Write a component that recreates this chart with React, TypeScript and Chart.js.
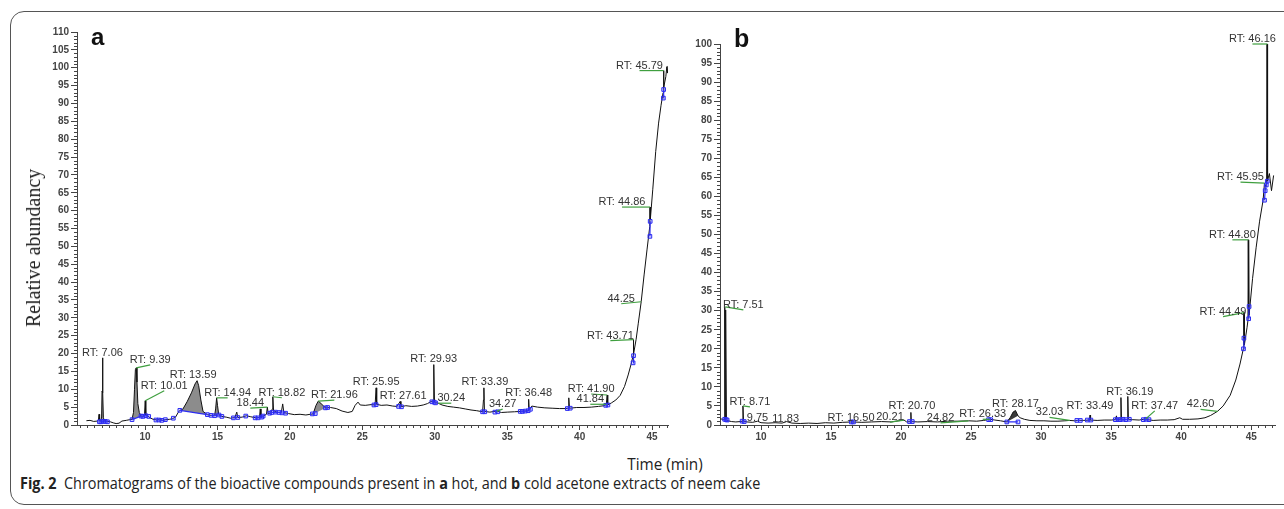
import React, { useEffect, useRef } from 'react';
import { Chart, registerables } from 'chart.js';

Chart.register(...registerables);

// ---------- Panel a : hot acetone extract ----------
const X_RANGE_A: [number, number] = [5.3, 46.1];
const Y_MAX_A = 110;

const TRACE_A: [number, number][] = [
  [5.95, 1.2], [6.2, 1.3], [6.45, 1.0], [6.7, 1.1], [6.78, 1.4], [6.82, 3.0], [6.86, 1.3], [6.95, 1.0],
  [7.0, 2.5], [7.03, 9.5], [7.06, 18.8], [7.09, 9.0], [7.12, 2.0], [7.2, 1.2], [7.4, 1.0], [7.6, 0.9],
  [7.8, 0.6], [8.0, 0.4], [8.2, 0.5], [8.4, 1.1], [8.7, 1.3], [8.95, 1.5], [9.1, 1.6], [9.2, 3.5],
  [9.27, 10.0], [9.33, 15.5], [9.39, 16.0], [9.44, 12.0], [9.5, 6.0], [9.6, 3.5], [9.72, 2.5], [9.85, 2.4],
  [9.96, 2.8], [10.01, 6.8], [10.05, 2.8], [10.2, 2.5], [10.35, 2.0], [10.55, 1.6], [10.8, 1.4], [11.0, 1.7],
  [11.2, 1.3], [11.45, 1.5], [11.7, 1.6], [11.9, 1.8], [12.1, 2.2], [12.3, 3.6], [12.4, 4.1], [12.6, 4.4],
  [12.9, 6.5], [13.2, 9.0], [13.45, 11.5], [13.59, 12.4], [13.7, 11.0], [13.85, 7.0], [14.0, 3.8], [14.3, 2.9],
  [14.55, 2.7], [14.8, 2.6], [14.87, 4.5], [14.94, 7.6], [15.0, 5.5], [15.08, 3.0], [15.3, 2.4], [15.6, 2.2],
  [15.9, 1.9], [16.2, 2.1], [16.33, 3.6], [16.4, 2.1], [16.7, 2.2], [17.0, 2.6], [17.3, 2.3], [17.65, 2.0],
  [17.9, 2.1], [17.95, 4.5], [18.0, 2.2], [18.2, 2.6], [18.38, 3.0], [18.44, 5.0], [18.5, 3.2], [18.7, 3.4],
  [18.78, 4.5], [18.82, 7.9], [18.87, 4.0], [19.1, 3.6], [19.4, 3.4], [19.5, 5.9], [19.58, 3.5], [19.9, 3.2],
  [20.3, 2.9], [20.7, 3.0], [21.1, 2.8], [21.4, 3.0], [21.6, 3.1], [21.8, 5.5], [21.96, 6.7], [22.15, 6.0],
  [22.35, 5.2], [22.5, 4.8], [22.8, 4.9], [23.2, 4.6], [23.6, 3.9], [24.0, 3.5], [24.3, 3.8], [24.5, 5.5],
  [24.7, 6.4], [24.85, 5.6], [25.2, 5.5], [25.6, 5.7], [25.88, 5.6], [25.95, 10.4], [25.99, 5.8], [26.3, 5.5],
  [26.7, 5.6], [27.1, 5.3], [27.4, 5.2], [27.61, 6.6], [27.66, 5.1], [28.0, 5.4], [28.4, 5.2], [28.8, 5.3],
  [29.2, 5.6], [29.5, 6.0], [29.75, 6.6], [29.89, 6.5], [29.93, 16.9], [29.98, 6.3], [30.24, 6.1], [30.5, 5.6],
  [30.9, 5.2], [31.3, 5.0], [31.7, 4.8], [32.1, 4.5], [32.5, 4.2], [32.9, 4.0], [33.3, 3.7], [33.36, 7.0],
  [33.39, 10.4], [33.43, 3.8], [33.8, 3.6], [34.27, 3.9], [34.6, 3.5], [35.0, 3.6], [35.5, 3.7], [35.9, 3.8],
  [36.2, 3.9], [36.45, 4.0], [36.48, 7.2], [36.52, 4.2], [36.7, 5.3], [37.1, 5.0], [37.6, 4.8], [38.1, 4.7],
  [38.6, 4.6], [39.0, 4.6], [39.22, 4.7], [39.25, 7.6], [39.3, 4.7], [39.8, 4.9], [40.3, 4.9], [40.8, 5.0],
  [41.3, 5.2], [41.7, 5.4], [41.84, 5.8], [41.9, 8.4], [41.94, 5.6], [42.2, 6.2], [42.5, 7.0], [42.8, 8.3],
  [43.1, 10.8], [43.35, 14.0], [43.55, 17.0], [43.69, 19.4], [43.71, 23.9], [43.73, 19.8], [43.9, 24.0],
  [44.05, 28.5], [44.25, 34.5], [44.45, 42.0], [44.65, 49.0], [44.84, 55.5], [44.86, 61.0], [44.88, 57.5],
  [45.05, 66.0], [45.25, 76.5], [45.45, 84.5], [45.62, 89.5], [45.76, 93.0], [45.79, 99.2], [45.82, 94.5],
  [45.95, 97.5], [46.02, 100.3], [46.06, 98.5], [46.1, 100.5],
];

const MARKERS_A: [number, number][][] = [
  [[6.85, 0.9], [6.95, 0.9], [7.1, 1.0], [7.25, 1.0], [7.4, 0.9]],
  [[9.1, 1.5], [9.72, 2.5]],
  [[9.85, 2.4], [10.05, 2.6], [10.25, 2.4]],
  [[10.75, 1.4], [10.95, 1.4], [11.15, 1.3], [11.4, 1.5]],
  [[11.95, 1.9]],
  [[12.4, 4.1], [14.3, 2.9]],
  [[14.55, 2.7], [14.8, 2.6], [15.1, 2.8], [15.3, 2.4]],
  [[16.1, 2.0], [16.4, 2.1]],
  [[16.95, 2.5]],
  [[17.6, 2.0], [17.8, 2.0], [18.05, 2.2], [18.15, 2.5]],
  [[18.6, 3.3], [18.75, 3.5], [19.0, 3.6], [19.25, 3.5], [19.45, 3.4], [19.7, 3.3]],
  [[21.55, 3.1], [21.75, 3.2]],
  [[22.45, 4.8], [22.6, 4.9]],
  [[25.8, 5.6], [25.95, 5.7]],
  [[27.5, 5.2], [27.7, 5.1]],
  [[29.8, 6.5], [29.95, 6.4], [30.05, 6.2]],
  [[33.3, 3.7], [33.45, 3.7]],
  [[34.15, 3.6], [34.35, 3.7]],
  [[35.9, 3.8], [36.05, 3.8], [36.25, 3.9], [36.45, 4.0], [36.6, 4.4]],
  [[39.15, 4.6], [39.35, 4.7]],
  [[41.8, 5.5], [41.95, 5.6]],
  [[43.69, 17.4], [43.72, 19.4]],
  [[44.85, 52.8], [44.87, 57.0]],
  [[45.78, 91.5], [45.8, 93.9]],
];

const FILLS_A: [number, number][] = [
  [6.95, 7.12], [9.1, 9.72], [9.96, 10.05], [12.4, 14.3], [14.8, 15.08], [21.6, 22.5],
];

const PEAKS_A = [
  { text: 'RT: 7.06', t: 7.06, y: 18.8 },
  { text: 'RT: 9.39', t: 9.39, y: 16.0 },
  { text: 'RT: 10.01', t: 10.01, y: 6.8 },
  { text: 'RT: 13.59', t: 13.59, y: 12.4 },
  { text: 'RT: 14.94', t: 14.94, y: 7.6 },
  { text: '18.44', t: 18.44, y: 5.0 },
  { text: 'RT: 18.82', t: 18.82, y: 7.9 },
  { text: 'RT: 21.96', t: 21.96, y: 6.7 },
  { text: 'RT: 25.95', t: 25.95, y: 10.4 },
  { text: 'RT: 27.61', t: 27.61, y: 6.6 },
  { text: 'RT: 29.93', t: 29.93, y: 16.9 },
  { text: '30.24', t: 30.24, y: 6.1 },
  { text: 'RT: 33.39', t: 33.39, y: 10.4 },
  { text: '34.27', t: 34.27, y: 3.9 },
  { text: 'RT: 36.48', t: 36.48, y: 7.2 },
  { text: 'RT: 41.90', t: 41.9, y: 8.4 },
  { text: '41.84', t: 41.84, y: 5.8 },
  { text: 'RT: 43.71', t: 43.71, y: 23.9 },
  { text: '44.25', t: 44.25, y: 34.5 },
  { text: 'RT: 44.86', t: 44.86, y: 61.0 },
  { text: 'RT: 45.79', t: 45.79, y: 99.2 },
];

// label placement relative to the peak apex, in pixels (layout only)
const LABEL_OFFSETS_A: [number, number][] = [
  [0, -5], [14, -8], [19, -15], [-4, -6], [11, -5], [-17, -4], [9, -4], [16, -6], [0, -6], [3, -5],
  [0, -6], [13, -5], [1, -6], [6, -7], [0, -6], [-16, -6], [-16, -5], [-23, -4], [-20, -3], [-28, -5], [-24, -5],
];

// ---------- Panel b : cold acetone extract ----------
const X_RANGE_B: [number, number] = [7.07, 46.7];
const Y_MAX_B = 100;

const TRACE_B: [number, number][] = [
  [7.1, 1.6], [7.3, 1.5], [7.38, 1.4], [7.41, 31.0], [7.44, 1.5], [7.46, 1.4], [7.49, 30.2], [7.53, 1.4],
  [7.65, 1.1], [7.9, 0.9], [8.2, 0.8], [8.5, 0.9], [8.66, 1.0], [8.71, 5.0], [8.75, 1.0], [9.0, 0.8],
  [9.4, 0.7], [9.75, 1.0], [10.0, 0.6], [10.5, 0.5], [11.0, 0.6], [11.5, 0.5], [11.83, 0.9], [12.2, 0.5],
  [12.8, 0.4], [13.4, 0.5], [14.0, 0.4], [14.6, 0.6], [15.2, 0.5], [15.8, 0.7], [16.5, 0.8], [17.2, 0.7],
  [17.9, 0.8], [18.6, 0.9], [19.3, 0.8], [19.8, 1.1], [20.21, 1.3], [20.4, 0.8], [20.67, 0.9], [20.7, 3.3],
  [20.73, 0.9], [21.2, 0.8], [21.9, 0.9], [22.6, 0.8], [23.3, 1.0], [24.0, 1.0], [24.82, 1.1], [25.4, 1.0],
  [25.9, 1.2], [26.33, 1.5], [26.7, 1.3], [27.1, 1.1], [27.55, 0.8], [27.8, 2.0], [28.0, 3.4], [28.17, 3.8],
  [28.35, 2.4], [28.5, 1.9], [28.8, 1.5], [29.2, 1.2], [29.7, 1.1], [30.2, 1.1], [30.7, 1.0], [31.2, 1.0],
  [31.7, 1.1], [32.03, 1.2], [32.4, 1.1], [32.7, 1.2], [33.0, 1.2], [33.45, 1.3], [33.49, 2.6], [33.53, 1.3],
  [34.0, 1.2], [34.5, 1.3], [35.0, 1.3], [35.3, 1.4], [35.38, 2.4], [35.42, 1.4], [35.66, 1.4], [35.7, 7.2],
  [35.74, 1.5], [36.15, 1.4], [36.19, 7.5], [36.23, 1.5], [36.5, 1.4], [37.0, 1.3], [37.47, 1.6], [37.6, 1.4],
  [38.0, 1.2], [38.5, 1.3], [39.0, 1.3], [39.5, 1.4], [39.9, 1.9], [40.1, 1.5], [40.6, 1.5], [41.2, 1.6],
  [41.7, 1.9], [42.1, 2.5], [42.6, 3.6], [43.0, 5.0], [43.5, 7.8], [43.9, 11.8], [44.2, 16.0], [44.44, 20.0],
  [44.47, 29.5], [44.49, 21.0], [44.51, 29.5], [44.53, 21.2], [44.7, 25.5], [44.77, 27.5], [44.79, 48.6],
  [44.81, 28.2], [44.83, 48.6], [44.85, 28.8], [45.1, 38.5], [45.35, 46.5], [45.6, 53.5], [45.85, 59.0],
  [45.95, 63.5], [46.05, 62.5], [46.1, 63.5], [46.13, 100.0], [46.15, 64.0], [46.17, 100.0], [46.19, 64.2],
  [46.3, 66.0], [46.45, 61.5], [46.6, 65.5],
];

const MARKERS_B: [number, number][][] = [
  [[7.4, 1.5], [7.5, 1.4], [7.58, 1.3]],
  [[8.65, 1.0], [8.8, 0.9]],
  [[16.45, 0.8], [16.6, 0.8]],
  [[20.6, 0.9], [20.8, 0.9]],
  [[26.25, 1.4], [26.4, 1.4]],
  [[27.55, 0.8], [28.35, 0.8]],
  [[32.55, 1.2], [32.8, 1.2]],
  [[33.3, 1.3], [33.55, 1.3]],
  [[35.3, 1.4], [35.5, 1.4]],
  [[35.65, 1.4], [35.85, 1.5], [36.05, 1.4], [36.3, 1.5]],
  [[37.3, 1.4], [37.5, 1.5], [37.7, 1.4]],
  [[44.45, 20.0], [44.48, 22.8]],
  [[44.82, 27.9], [44.85, 31.1]],
  [[45.95, 59.0], [46.0, 61.5], [46.08, 63.0], [46.15, 64.0]],
];

const FILLS_B: [number, number][] = [[27.55, 28.35]];

const PEAKS_B = [
  { text: 'RT: 7.51', t: 7.45, y: 31.0 },
  { text: 'RT: 8.71', t: 8.71, y: 5.0 },
  { text: '9.75', t: 9.75, y: 1.0 },
  { text: '11.83', t: 11.83, y: 0.9 },
  { text: 'RT: 16.50', t: 16.5, y: 0.8 },
  { text: '20.21', t: 20.21, y: 1.3 },
  { text: 'RT: 20.70', t: 20.7, y: 3.3 },
  { text: '24.82', t: 24.82, y: 1.1 },
  { text: 'RT: 26.33', t: 26.33, y: 1.5 },
  { text: 'RT: 28.17', t: 28.17, y: 3.8 },
  { text: '32.03', t: 32.03, y: 1.2 },
  { text: 'RT: 33.49', t: 33.49, y: 2.6 },
  { text: 'RT: 36.19', t: 36.19, y: 7.5 },
  { text: 'RT: 37.47', t: 37.47, y: 1.6 },
  { text: '42.60', t: 42.6, y: 3.6 },
  { text: 'RT: 44.49', t: 44.49, y: 29.5 },
  { text: 'RT: 44.80', t: 44.8, y: 48.6 },
  { text: 'RT: 45.95', t: 45.95, y: 63.5 },
  { text: 'RT: 46.16', t: 46.16, y: 100.0 },
];

const LABEL_OFFSETS_B: [number, number][] = [
  [18, -2], [7, -4], [0, -3], [-1, -3], [-1, -4], [-14, -3], [1, -6], [-28, -3], [-7, -5], [0, -7],
  [-20, -8], [0, -9], [2, -4], [9, -13], [-17, -7], [-21, -1], [-16, -5], [-24, -6], [-15, -5],
];

// ---------- helpers ----------
type Peak = { text: string; t: number; y: number };

function buildDatasets(trace: [number, number][], markers: [number, number][][], fills: [number, number][], fillColor: string) {
  const markerData: { x: number; y: number | null }[] = [];
  markers.forEach((g, i) => {
    if (i) markerData.push({ x: g[0][0] - 0.001, y: null });
    g.forEach(([x, y]) => markerData.push({ x, y }));
  });
  const ds: any[] = [
    {
      label: 'integration', data: markerData, borderColor: '#2c2cf2', borderWidth: 1.2,
      pointStyle: 'rect', pointRadius: 2.6, pointBorderColor: '#2c2cf2', pointBorderWidth: 1,
      pointBackgroundColor: 'rgba(80,80,255,0.25)', spanGaps: false, fill: false, tension: 0,
    },
    {
      label: 'trace', data: trace.map(([x, y]) => ({ x, y })), borderColor: '#111', borderWidth: 1,
      pointRadius: 0, fill: false, tension: 0,
    },
  ];
  fills.forEach(([a, b]) => {
    ds.push({
      label: 'area', data: trace.filter(([x]) => x >= a - 1e-9 && x <= b + 1e-9).map(([x, y]) => ({ x, y })),
      borderWidth: 0, borderColor: 'rgba(0,0,0,0)', backgroundColor: fillColor, pointRadius: 0, fill: 'shape', tension: 0,
    });
  });
  return ds;
}

function makeAnnotPlugin(peaks: Peak[], offsets: [number, number][]) {
  return {
    id: 'rtAnnotations',
    afterDatasetsDraw(chart: any) {
      const { ctx, chartArea } = chart;
      const xs = chart.scales.x, ys = chart.scales.y;
      ctx.save();
      // minor ticks
      ctx.strokeStyle = '#444';
      ctx.lineWidth = 1;
      for (let v = Math.ceil(ys.min); v <= ys.max + 1e-9; v += 1) {
        if (v % 5 === 0) continue;
        const y = Math.round(ys.getPixelForValue(v)) + 0.5;
        ctx.beginPath(); ctx.moveTo(chartArea.left - 3, y); ctx.lineTo(chartArea.left, y); ctx.stroke();
      }
      for (let v = Math.ceil(xs.min * 2) / 2; v <= xs.max + 1e-9; v += 0.5) {
        if (Math.abs(v % 5) < 1e-9) continue;
        const x = Math.round(xs.getPixelForValue(v)) + 0.5;
        ctx.beginPath(); ctx.moveTo(x, chartArea.bottom); ctx.lineTo(x, chartArea.bottom + 3); ctx.stroke();
      }
      // RT labels
      ctx.font = '11px "Liberation Sans", Arial, sans-serif';
      ctx.textAlign = 'center';
      ctx.textBaseline = 'middle';
      peaks.forEach((p, i) => {
        const [dx, dy] = offsets[i];
        const ax = xs.getPixelForValue(p.t), ay = ys.getPixelForValue(p.y);
        const cx = ax + dx, cy = ay + dy;
        if (Math.abs(dx) >= 6) {
          ctx.strokeStyle = '#3f9f3f';
          ctx.lineWidth = 1.2;
          ctx.beginPath(); ctx.moveTo(ax, ay); ctx.lineTo(cx, cy + 5); ctx.stroke();
        }
        ctx.fillStyle = '#333';
        ctx.fillText(p.text, cx, cy);
      });
      ctx.restore();
    },
  };
}

function makeConfig(opts: {
  trace: [number, number][]; markers: [number, number][][]; fills: [number, number][]; fillColor: string;
  xr: [number, number]; ymax: number; yWidth: number; padding: any; peaks: Peak[]; offsets: [number, number][];
}) {
  const tickFont = { family: '"Liberation Sans", Arial, sans-serif', size: 10, weight: 'bold' as const };
  return {
    type: 'line' as const,
    data: { datasets: buildDatasets(opts.trace, opts.markers, opts.fills, opts.fillColor) },
    options: {
      responsive: false,
      animation: false as const,
      devicePixelRatio: 1,
      layout: { padding: opts.padding },
      plugins: { legend: { display: false }, tooltip: { enabled: false }, title: { display: false } },
      scales: {
        x: {
          type: 'linear' as const, min: opts.xr[0], max: opts.xr[1],
          afterBuildTicks: (s: any) => {
            s.ticks = s.ticks.filter((t: any) => Math.abs(t.value / 5 - Math.round(t.value / 5)) < 1e-6);
          },
          afterFit: (s: any) => { s.height = 25; },
          ticks: { stepSize: 5, includeBounds: false, autoSkip: false, maxRotation: 0, padding: 1, color: '#444', font: tickFont },
          grid: { display: true, drawOnChartArea: false, drawTicks: true, tickLength: 5, tickColor: '#444' },
          border: { display: true, color: '#444', width: 1 },
        },
        y: {
          type: 'linear' as const, min: 0, max: opts.ymax,
          afterFit: (s: any) => { s.width = opts.yWidth; },
          ticks: { stepSize: 5, autoSkip: false, padding: 2, color: '#444', font: tickFont },
          grid: { display: true, drawOnChartArea: false, drawTicks: true, tickLength: 6, tickColor: '#444' },
          border: { display: true, color: '#444', width: 1 },
        },
      },
    },
    plugins: [makeAnnotPlugin(opts.peaks, opts.offsets)],
  };
}

export default function App() {
  const refA = useRef<HTMLCanvasElement>(null);
  const refB = useRef<HTMLCanvasElement>(null);

  useEffect(() => {
    const a = new Chart(refA.current as HTMLCanvasElement, makeConfig({
      trace: TRACE_A, markers: MARKERS_A, fills: FILLS_A, fillColor: '#8c8c8c',
      xr: X_RANGE_A, ymax: Y_MAX_A, yWidth: 57, padding: { top: 12, right: 12, left: 0, bottom: 0 },
      peaks: PEAKS_A, offsets: LABEL_OFFSETS_A,
    }) as any);
    const b = new Chart(refB.current as HTMLCanvasElement, makeConfig({
      trace: TRACE_B, markers: MARKERS_B, fills: FILLS_B, fillColor: '#3a3a3a',
      xr: X_RANGE_B, ymax: Y_MAX_B, yWidth: 40, padding: { top: 24, right: 9, left: 0, bottom: 0 },
      peaks: PEAKS_B, offsets: LABEL_OFFSETS_B,
    }) as any);
    return () => { a.destroy(); b.destroy(); };
  }, []);

  const sansCond = '"Open Sans", "Noto Sans", sans-serif';
  return (
    <div style={{ position: 'fixed', left: 0, top: 0, width: 1284, height: 509, overflow: 'hidden', background: '#fff' }}>
      <div style={{
        position: 'absolute', left: 10, top: 11, width: 1300, height: 494, boxSizing: 'border-box',
        border: '1.5px solid #555', borderRadius: 14,
      }} />
      <canvas ref={refA} width={660} height={430} style={{ position: 'absolute', left: 20, top: 20 }} />
      <canvas ref={refB} width={604} height={430} style={{ position: 'absolute', left: 680, top: 20 }} />
      <div style={{ position: 'absolute', left: 91, top: 25, fontFamily: '"Liberation Sans", Arial, sans-serif', fontWeight: 'bold', fontSize: 24, lineHeight: '24px', color: '#111' }}>a</div>
      <div style={{ position: 'absolute', left: 734, top: 26, fontFamily: '"Liberation Sans", Arial, sans-serif', fontWeight: 'bold', fontSize: 25, lineHeight: '25px', color: '#111' }}>b</div>
      <div style={{
        position: 'absolute', left: 33, top: 248, transform: 'translate(-50%, -50%) rotate(-90deg)',
        fontFamily: '"Liberation Serif", "Times New Roman", serif', fontSize: 20, lineHeight: '20px', whiteSpace: 'nowrap', color: '#222',
      }}>Relative abundancy</div>
      <div style={{
        position: 'absolute', left: 665, top: 463, transform: 'translate(-50%, -50%) scaleX(0.9)',
        fontFamily: sansCond, fontSize: 17, lineHeight: '17px', whiteSpace: 'nowrap', color: '#222',
      }}>Time (min)</div>
      <div style={{
        position: 'absolute', left: 20, top: 474, transform: 'scaleX(0.9)', transformOrigin: 'left center',
        fontFamily: sansCond, fontSize: 16, lineHeight: '18px', whiteSpace: 'nowrap', color: '#222',
      }}>
        <b>Fig. 2</b>&nbsp;&nbsp;Chromatograms of the bioactive compounds present in <b>a</b> hot, and <b>b</b> cold acetone extracts of neem cake
      </div>
    </div>
  );
}
